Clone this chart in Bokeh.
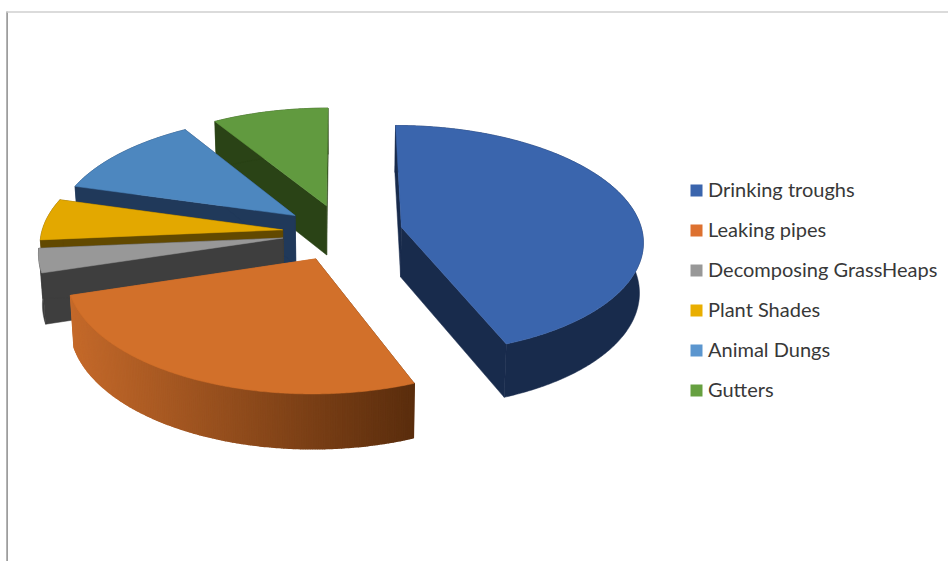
import math
from bokeh.core.properties import value
from bokeh.embed import file_html
from bokeh.models import ColumnDataSource, Range1d
from bokeh.plotting import figure
from bokeh.resources import INLINE

# Share of each source, in percent, clockwise from twelve o'clock
categories = ["Drinking troughs", "Leaking pipes", "Decomposing GrassHeaps",
              "Plant Shades", "Animal Dungs", "Gutters"]
shares = [44.0, 26.25, 3.35, 5.8, 11.8, 8.8]

top_colors = ["#3A65AD", "#D2702A", "#989898", "#E3A800", "#4D87BF", "#619A3F"]
side_colors = ["#182B4C", "#8F4E1E", "#3E3E3E", "#624900", "#20395A", "#2A4316"]
legend_colors = ["#3A65AD", "#DD7130", "#989898", "#E9AE00", "#5B96CF", "#66A040"]

# Far-to-near painting order of the slices
paint_order = [5, 4, 3, 2, 1, 0]

# Perspective pie geometry
CX, CY = 342.0, 232.0
RX, RY = 241.0, 114.0
PERSPECTIVE = 0.11
EXPLODE = 0.25
DEPTH = 50.0
BOTTOM_SX, BOTTOM_SY = 0.987, 1.03
ORANGE_RAMP = ((0xC4, 0x69, 0x2A), (0x5A, 0x2D, 0x0D))


def project(u, v):
    w = 1 + PERSPECTIVE * v
    return CX + RX * u / w, CY - RY * v / w


def lower(pt):
    x, y = pt
    return CX + (x - CX) * BOTTOM_SX, CY + (y - CY) * BOTTOM_SY + DEPTH


def slice_outline(start_deg, end_deg):
    mid = math.radians((start_deg + end_deg) / 2)
    ou, ov = EXPLODE * math.sin(mid), EXPLODE * math.cos(mid)
    steps = max(4, int(end_deg - start_deg) * 2)
    rim = []
    for i in range(steps + 1):
        a = math.radians(start_deg + (end_deg - start_deg) * i / steps)
        rim.append(project(ou + math.sin(a), ov + math.cos(a)))
    return project(ou, ov), rim


def ramp_color(x, x0, x1):
    t = min(1.0, max(0.0, (x - x0) / (x1 - x0)))
    a, b = ORANGE_RAMP
    return "#%02X%02X%02X" % tuple(round(a[i] + (b[i] - a[i]) * t) for i in range(3))


def wall(a, b):
    """Vertical face below the top edge a-b."""
    la, lb = lower(a), lower(b)
    return [a[0], b[0], lb[0], la[0]], [a[1], b[1], lb[1], la[1]]


p = figure(width=948, height=561, output_backend="svg", toolbar_location=None,
           x_range=Range1d(0, 948), y_range=Range1d(561, 0),
           x_axis_type=None, y_axis_type=None, min_border=0,
           background_fill_color="white", border_fill_color="white",
           outline_line_color=None)
p.grid.visible = False

# Thin frame along the left and top of the slide
p.segment(x0=[6.6], y0=[11], x1=[6.6], y1=[561], line_color="#8C8C8C", line_width=1.5)
p.segment(x0=[6], y0=[11.6], x1=[948], y1=[11.6], line_color="#CFCFCF", line_width=1.5)

# Cumulative angle bounds of the slices
bounds = []
angle = 0.0
scale = 360.0 / sum(shares)
for s in shares:
    bounds.append((angle, angle + s * scale))
    angle += s * scale

for idx in paint_order:
    apex, rim = slice_outline(*bounds[idx])
    lower_rim = [lower(q) for q in rim]
    x_lo = min(q[0] for q in rim)
    x_hi = max(q[0] for q in rim)

    # Radial faces go first so that the rounded wall sits over them
    for edge_end in (rim[0], rim[-1]):
        fx, fy = wall(apex, edge_end)
        color = ramp_color(edge_end[0], x_lo, x_hi) if idx == 1 else side_colors[idx]
        p.patch(fx, fy, fill_color=color, line_color=color, line_width=0.5)

    if idx == 1:
        # Rounded wall shaded left to right in narrow strips
        xs, ys, cols = [], [], []
        for a, b in zip(rim[:-1], rim[1:]):
            fx, fy = wall(a, b)
            xs.append(fx)
            ys.append(fy)
            cols.append(ramp_color((a[0] + b[0]) / 2, x_lo, x_hi))
        p.patches(xs, ys, fill_color=cols, line_color=cols, line_width=1.5)
    else:
        band = rim + lower_rim[::-1]
        p.patch([q[0] for q in band], [q[1] for q in band],
                fill_color=side_colors[idx], line_color=side_colors[idx], line_width=0.5)

    outline = [apex] + rim
    p.patch([q[0] for q in outline], [q[1] for q in outline],
            fill_color=top_colors[idx], line_color=top_colors[idx], line_width=0.5)

# Legend
LEGEND_X, LEGEND_TOP, LEGEND_STEP = 696.0, 190.0, 40.0
legend_y = [LEGEND_TOP + LEGEND_STEP * i for i in range(len(categories))]
src = ColumnDataSource(dict(x=[LEGEND_X] * len(categories), tx=[LEGEND_X + 11.5] * len(categories),
                            ty=[y - 1.5 for y in legend_y],
                            y=legend_y, label=categories, color=legend_colors))
p.rect("x", "y", width=12, height=12, source=src, fill_color="color", line_color=None)
p.text("tx", "ty", text="label", source=src, text_font=value("Lato"), text_font_size="20px",
       text_color="#383838", text_baseline="middle", text_align="left")

open("out.html", "w").write(file_html(p, INLINE))
